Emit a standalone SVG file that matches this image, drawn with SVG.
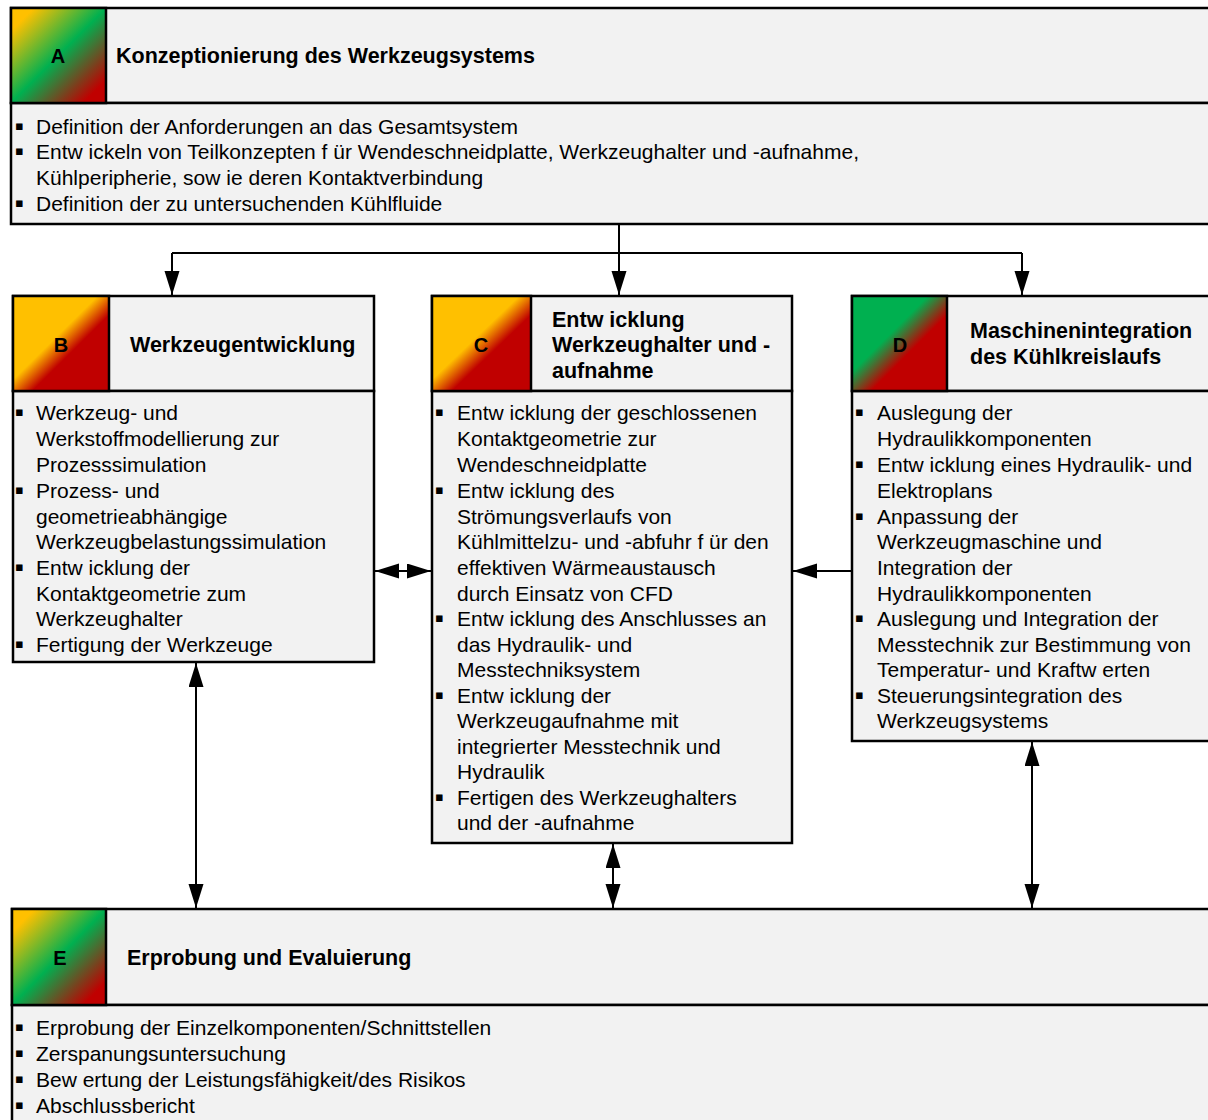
<svg xmlns="http://www.w3.org/2000/svg" width="1208" height="1120" viewBox="0 0 1208 1120">
<style>
.box{fill:#F2F2F2;stroke:#000;stroke-width:2.5}
.t{font-family:"Liberation Sans",Arial,sans-serif;font-size:21px;fill:#000}
.h{font-family:"Liberation Sans",Arial,sans-serif;font-size:21.5px;font-weight:bold;fill:#000}
.l{font-family:"Liberation Sans",Arial,sans-serif;font-size:20px;font-weight:bold;fill:#000;text-anchor:middle}
.b{font-family:"DejaVu Sans",sans-serif;font-size:13px}
.c{fill:none;stroke:#000;stroke-width:2}
</style>
<defs>
<linearGradient id="gAE" x1="0" y1="0" x2="1" y2="1">
<stop offset="0.12" stop-color="#FFC000"/>
<stop offset="0.5" stop-color="#00B050"/>
<stop offset="0.88" stop-color="#C00000"/>
</linearGradient>
<linearGradient id="gBC" x1="0" y1="0" x2="1" y2="1">
<stop offset="0.44" stop-color="#FFC000"/>
<stop offset="0.6" stop-color="#C00000"/>
</linearGradient>
<linearGradient id="gD" x1="0" y1="0" x2="1" y2="1">
<stop offset="0.4" stop-color="#00B050"/>
<stop offset="0.6" stop-color="#C00000"/>
</linearGradient>
<marker id="ah" markerUnits="userSpaceOnUse" markerWidth="26" markerHeight="16" refX="24" refY="7.5" orient="auto-start-reverse">
<path d="M0,0 L24,7.5 L0,15 Z" fill="#000"/>
</marker>
</defs>
<rect width="1208" height="1120" fill="#fff"/>

<g id="nodeA">
<rect class="box" x="11" y="8" width="1210" height="95"/>
<rect class="box" x="11" y="103" width="1210" height="121"/>
<rect x="11" y="8" width="95" height="95" fill="url(#gAE)" stroke="#000" stroke-width="2.5"/>
<text class="l" x="58" y="63">A</text>
<text class="h" x="116" y="63">Konzeptionierung des Werkzeugsystems</text>
<text class="t" y="134"><tspan class="b" x="15" baseline-shift="4px">▪</tspan><tspan x="36">Definition der Anforderungen an das Gesamtsystem</tspan></text>
<text class="t" y="159"><tspan class="b" x="15" baseline-shift="4px">▪</tspan><tspan x="36">Entw ickeln von Teilkonzepten f ür Wendeschneidplatte, Werkzeughalter und -aufnahme,</tspan></text>
<text class="t" x="36" y="185">Kühlperipherie, sow ie deren Kontaktverbindung</text>
<text class="t" y="211"><tspan class="b" x="15" baseline-shift="4px">▪</tspan><tspan x="36">Definition der zu untersuchenden Kühlfluide</tspan></text>
</g>

<g id="nodeB">
<rect class="box" x="13" y="296" width="361" height="95"/>
<rect class="box" x="13" y="391" width="361" height="271"/>
<rect x="13" y="296" width="96" height="95" fill="url(#gBC)" stroke="#000" stroke-width="2.5"/>
<text class="l" x="61" y="352">B</text>
<text class="h" x="130" y="352">Werkzeugentwicklung</text>
<text class="t" y="420"><tspan class="b" x="15" baseline-shift="4px">▪</tspan><tspan x="36">Werkzeug- und</tspan></text>
<text class="t" x="36" y="446">Werkstoffmodellierung zur</text>
<text class="t" x="36" y="472">Prozesssimulation</text>
<text class="t" y="498"><tspan class="b" x="15" baseline-shift="4px">▪</tspan><tspan x="36">Prozess- und</tspan></text>
<text class="t" x="36" y="524">geometrieabhängige</text>
<text class="t" x="36" y="549">Werkzeugbelastungssimulation</text>
<text class="t" y="575"><tspan class="b" x="15" baseline-shift="4px">▪</tspan><tspan x="36">Entw icklung der</tspan></text>
<text class="t" x="36" y="601">Kontaktgeometrie zum</text>
<text class="t" x="36" y="626">Werkzeughalter</text>
<text class="t" y="652"><tspan class="b" x="15" baseline-shift="4px">▪</tspan><tspan x="36">Fertigung der Werkzeuge</tspan></text>
</g>

<g id="nodeC">
<rect class="box" x="432" y="296" width="360" height="95"/>
<rect class="box" x="432" y="391" width="360" height="452"/>
<rect x="432" y="296" width="99" height="95" fill="url(#gBC)" stroke="#000" stroke-width="2.5"/>
<text class="l" x="481" y="352">C</text>
<text class="h" x="552" y="327">Entw icklung</text>
<text class="h" x="552" y="352">Werkzeughalter und -</text>
<text class="h" x="552" y="378">aufnahme</text>
<text class="t" y="420"><tspan class="b" x="435" baseline-shift="4px">▪</tspan><tspan x="457">Entw icklung der geschlossenen</tspan></text>
<text class="t" x="457" y="446">Kontaktgeometrie zur</text>
<text class="t" x="457" y="472">Wendeschneidplatte</text>
<text class="t" y="498"><tspan class="b" x="435" baseline-shift="4px">▪</tspan><tspan x="457">Entw icklung des</tspan></text>
<text class="t" x="457" y="524">Strömungsverlaufs von</text>
<text class="t" x="457" y="549">Kühlmittelzu- und -abfuhr f ür den</text>
<text class="t" x="457" y="575">effektiven Wärmeaustausch</text>
<text class="t" x="457" y="601">durch Einsatz von CFD</text>
<text class="t" y="626"><tspan class="b" x="435" baseline-shift="4px">▪</tspan><tspan x="457">Entw icklung des Anschlusses an</tspan></text>
<text class="t" x="457" y="652">das Hydraulik- und</text>
<text class="t" x="457" y="677">Messtechniksystem</text>
<text class="t" y="703"><tspan class="b" x="435" baseline-shift="4px">▪</tspan><tspan x="457">Entw icklung der</tspan></text>
<text class="t" x="457" y="728">Werkzeugaufnahme mit</text>
<text class="t" x="457" y="754">integrierter Messtechnik und</text>
<text class="t" x="457" y="779">Hydraulik</text>
<text class="t" y="805"><tspan class="b" x="435" baseline-shift="4px">▪</tspan><tspan x="457">Fertigen des Werkzeughalters</tspan></text>
<text class="t" x="457" y="830">und der -aufnahme</text>
</g>

<g id="nodeD">
<rect class="box" x="852" y="296" width="370" height="95"/>
<rect class="box" x="852" y="391" width="370" height="350"/>
<rect x="852" y="296" width="95" height="95" fill="url(#gD)" stroke="#000" stroke-width="2.5"/>
<text class="l" x="900" y="352">D</text>
<text class="h" x="970" y="338">Maschinenintegration</text>
<text class="h" x="970" y="364">des Kühlkreislaufs</text>
<text class="t" y="420"><tspan class="b" x="855" baseline-shift="4px">▪</tspan><tspan x="877">Auslegung der</tspan></text>
<text class="t" x="877" y="446">Hydraulikkomponenten</text>
<text class="t" y="472"><tspan class="b" x="855" baseline-shift="4px">▪</tspan><tspan x="877">Entw icklung eines Hydraulik- und</tspan></text>
<text class="t" x="877" y="498">Elektroplans</text>
<text class="t" y="524"><tspan class="b" x="855" baseline-shift="4px">▪</tspan><tspan x="877">Anpassung der</tspan></text>
<text class="t" x="877" y="549">Werkzeugmaschine und</text>
<text class="t" x="877" y="575">Integration der</text>
<text class="t" x="877" y="601">Hydraulikkomponenten</text>
<text class="t" y="626"><tspan class="b" x="855" baseline-shift="4px">▪</tspan><tspan x="877">Auslegung und Integration der</tspan></text>
<text class="t" x="877" y="652">Messtechnik zur Bestimmung von</text>
<text class="t" x="877" y="677">Temperatur- und Kraftw erten</text>
<text class="t" y="703"><tspan class="b" x="855" baseline-shift="4px">▪</tspan><tspan x="877">Steuerungsintegration des</tspan></text>
<text class="t" x="877" y="728">Werkzeugsystems</text>
</g>

<g id="nodeE">
<rect class="box" x="12" y="909" width="1210" height="96"/>
<rect class="box" x="12" y="1005" width="1210" height="125"/>
<rect x="12" y="909" width="94" height="96" fill="url(#gAE)" stroke="#000" stroke-width="2.5"/>
<text class="l" x="60" y="965">E</text>
<text class="h" x="127" y="965">Erprobung und Evaluierung</text>
<text class="t" y="1035"><tspan class="b" x="15" baseline-shift="4px">▪</tspan><tspan x="36">Erprobung der Einzelkomponenten/Schnittstellen</tspan></text>
<text class="t" y="1061"><tspan class="b" x="15" baseline-shift="4px">▪</tspan><tspan x="36">Zerspanungsuntersuchung</tspan></text>
<text class="t" y="1087"><tspan class="b" x="15" baseline-shift="4px">▪</tspan><tspan x="36">Bew ertung der Leistungsfähigkeit/des Risikos</tspan></text>
<text class="t" y="1113"><tspan class="b" x="15" baseline-shift="4px">▪</tspan><tspan x="36">Abschlussbericht</tspan></text>
</g>

<g id="connectors">
<path class="c" d="M172,253 H1022"/>
<path class="c" d="M619,225 V295" marker-end="url(#ah)"/>
<path class="c" d="M172,253 V295" marker-end="url(#ah)"/>
<path class="c" d="M1022,253 V295" marker-end="url(#ah)"/>
<path class="c" d="M375,571 H431" marker-start="url(#ah)" marker-end="url(#ah)"/>
<path class="c" d="M852,571 H793" marker-end="url(#ah)"/>
<path class="c" d="M196,663 V908" marker-start="url(#ah)" marker-end="url(#ah)"/>
<path class="c" d="M613,844 V908" marker-start="url(#ah)" marker-end="url(#ah)"/>
<path class="c" d="M1032,742 V908" marker-start="url(#ah)" marker-end="url(#ah)"/>
</g>
</svg>
